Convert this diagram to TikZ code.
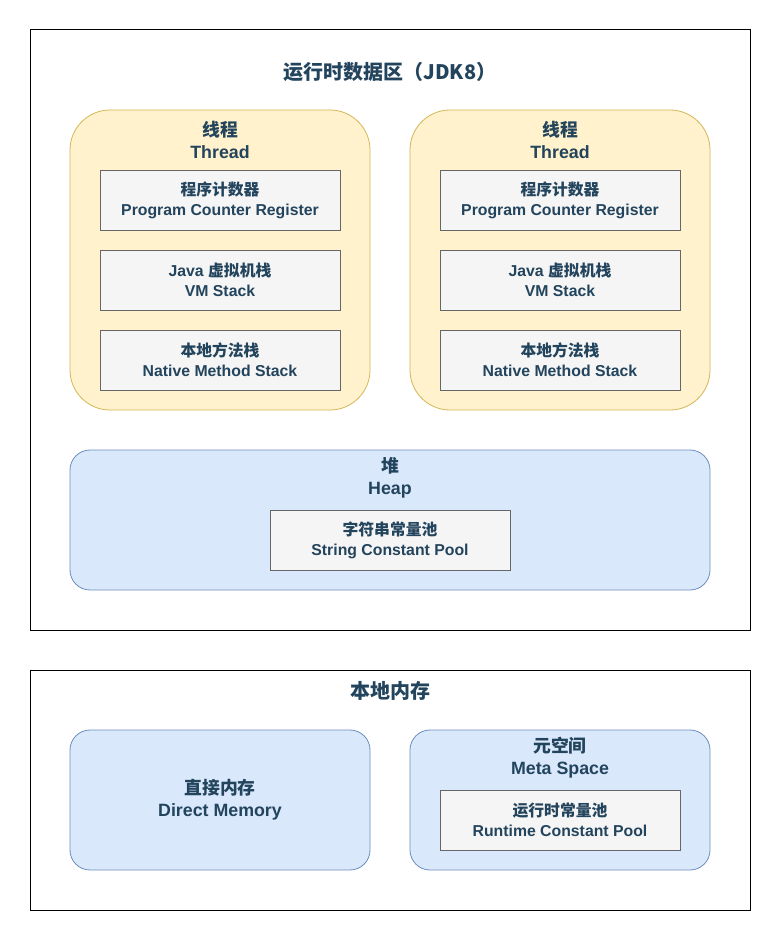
\documentclass[tikz,border=0pt]{standalone}
\usepackage{fontspec}
\setmainfont{Liberation Sans}
\newfontfamily\cjk{Noto Sans CJK SC}
\definecolor{txtc}{HTML}{23445D}
\definecolor{thrfill}{HTML}{FFF2CC}
\definecolor{thrdraw}{HTML}{D6B656}
\definecolor{bfill}{HTML}{DAE8FC}
\definecolor{bdraw}{HTML}{6C8EBF}
\definecolor{ifill}{HTML}{F5F5F5}
\definecolor{idraw}{HTML}{666666}
\begin{document}
\begin{tikzpicture}[x=1pt,y=-1pt,
  region/.style={draw=black, line width=1pt, fill=white, rectangle, inner sep=0pt},
  thread/.style={draw=thrdraw, fill=thrfill, rectangle, rounded corners=40pt, minimum width=300pt, minimum height=300pt, inner sep=0pt, line width=0.8pt},
  bluebox/.style={draw=bdraw, fill=bfill, rectangle, rounded corners=20pt, inner sep=0pt, line width=0.8pt},
  item/.style={draw=idraw, fill=ifill, rectangle, minimum width=240pt, minimum height=60pt, inner sep=0pt, line width=0.8pt, text=txtc, align=center, font=\bfseries\fontsize{15.8}{20}\selectfont},
  lbl/.style={text=txtc, align=center, inner sep=0pt, font=\bfseries\fontsize{17.8}{22}\selectfont},
  ttl/.style={text=txtc, align=center, inner sep=0pt, font=\bfseries\fontsize{20}{22}\selectfont}
]
\useasboundingbox[fill=white] (0,0) rectangle (781,941);
% regions
\node[region, minimum width=720pt, minimum height=600pt] (rda) at (390,330) {};
\node[region, minimum width=720pt, minimum height=240pt] (nm) at (390,790) {};
\node[ttl] (rdat) at (390,72) {\cjk 运行时数据区（JDK8）};
\node[ttl] (nmt) at (390,691) {\cjk 本地内存};
% threads
\node[thread] (t1) at (220,260) {};
\node[thread] (t2) at (560,260) {};
\node[lbl] (t1l) at (220,140) {{\cjk 线程}\\Thread};
\node[lbl] (t2l) at (560,140) {{\cjk 线程}\\Thread};
\node[item] (pc1) at (220,200) {{\cjk 程序计数器}\\Program Counter Register};
\node[item] (vm1) at (220,280) {Java {\cjk 虚拟机栈}\\VM Stack};
\node[item] (ns1) at (220,360) {{\cjk 本地方法栈}\\Native Method Stack};
\node[item] (pc2) at (560,200) {{\cjk 程序计数器}\\Program Counter Register};
\node[item] (vm2) at (560,280) {Java {\cjk 虚拟机栈}\\VM Stack};
\node[item] (ns2) at (560,360) {{\cjk 本地方法栈}\\Native Method Stack};
% heap
\node[bluebox, minimum width=640pt, minimum height=140pt] (heap) at (390,520) {};
\node[lbl] (heapl) at (390,478) {{\cjk 堆}\\Heap};
\node[item] (scp) at (390,540) {{\cjk 字符串常量池}\\String Constant Pool};
% native memory
\node[bluebox, minimum width=300pt, minimum height=140pt] (dm) at (220,800) {};
\node[lbl] (dml) at (220,800) {{\cjk 直接内存}\\Direct Memory};
\node[bluebox, minimum width=300pt, minimum height=140pt] (ms) at (560,800) {};
\node[lbl] (msl) at (560,758) {{\cjk 元空间}\\Meta Space};
\node[item] (rcp) at (560,820) {{\cjk 运行时常量池}\\Runtime Constant Pool};
\end{tikzpicture}
\end{document}
